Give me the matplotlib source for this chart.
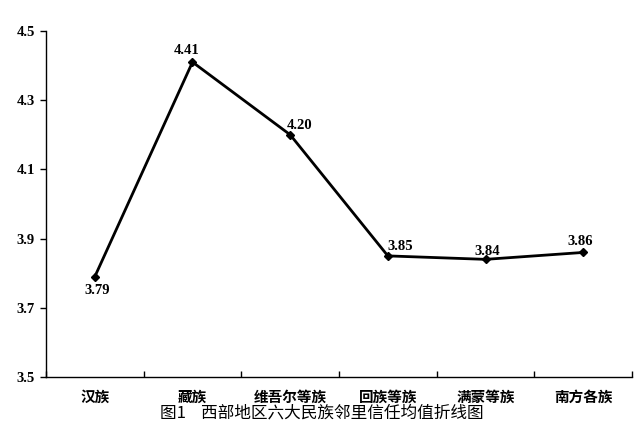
import matplotlib.pyplot as plt
import numpy as np

categories = ["汉族", "藏族", "维吾尔等族", "回族等族", "满蒙等族", "南方各族"]
values = [3.79, 4.41, 4.20, 3.85, 3.84, 3.86]
value_labels = ["3.79", "4.41", "4.20", "3.85", "3.84", "3.86"]
y_ticks = [3.5, 3.7, 3.9, 4.1, 4.3, 4.5]
caption = "图1    西部地区六大民族邻里信任均值折线图"

cjk = ["Noto Sans CJK SC", "DejaVu Sans"]
num_font = "Liberation Serif"

fig = plt.figure(figsize=(6.43, 4.42), dpi=100)
ax = fig.add_axes([0.0715, 0.147, 0.9115, 0.783])

x = np.arange(len(categories))
ax.plot(x, values, color="black", linewidth=2, marker="D", markersize=4)

# label offsets (points)
offsets = [(2, -5), (-4, 4), (7, 2), (9, 2), (1, 1), (-2, 3)]
for xi, v, lab, (dx, dy) in zip(x, values, value_labels, offsets):
    ax.annotate(lab, (xi, v), xytext=(dx, dy), textcoords="offset points",
                ha="center", va="bottom" if dy > 0 else "top",
                fontsize=10.5, fontweight="bold", family=num_font)

ax.set_xlim(-0.5, len(categories) - 0.5)
ax.set_ylim(3.5, 4.5)
ax.set_yticks(y_ticks)
ax.set_yticklabels([f"{t:.1f}" for t in y_ticks], family=num_font,
                   fontweight="bold", fontsize=10.5)
ax.set_xticks(np.arange(len(categories) + 1) - 0.5, minor=False)
ax.set_xticklabels([])
ax.tick_params(axis="x", direction="in", length=4, width=1)
ax.tick_params(axis="y", direction="out", length=4, width=1, pad=4)
for xi, c in zip(x, categories):
    ax.text(xi, -0.035, c, transform=ax.get_xaxis_transform(), ha="center",
            va="top", fontsize=10.5, fontweight="bold", family=cjk)

for s in ["top", "right"]:
    ax.spines[s].set_visible(False)
ax.spines["left"].set_linewidth(1)
ax.spines["bottom"].set_linewidth(1)

fig.text(0.5, 0.065, caption, ha="center", va="center", fontsize=12,
         family=cjk)

fig.savefig("out.png", dpi=100)
